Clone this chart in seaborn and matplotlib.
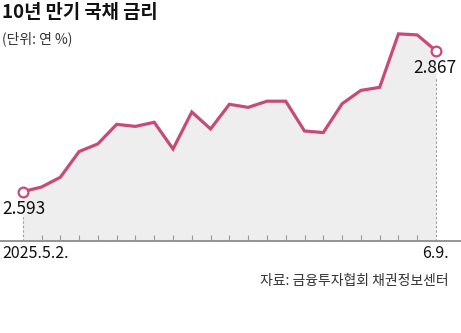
import numpy as np
import pandas as pd
import seaborn as sns
import matplotlib.pyplot as plt

# 10-year treasury yield, daily (trading days)
dates = ['2025.5.2.', '5.7.', '5.8.', '5.9.', '5.12.', '5.13.', '5.14.', '5.15.', '5.16.',
         '5.19.', '5.20.', '5.21.', '5.22.', '5.23.', '5.26.', '5.27.', '5.28.', '5.29.',
         '5.30.', '6.2.', '6.4.', '6.5.', '6.9.']
rates = [2.593, 2.602, 2.621, 2.671, 2.686, 2.724, 2.720, 2.728, 2.676, 2.748, 2.715,
         2.763, 2.757, 2.769, 2.769, 2.711, 2.708, 2.764, 2.790, 2.796, 2.900, 2.898, 2.867]

title = '10년 만기 국채 금리'
unit = '(단위: 연 %)'
source = '자료: 금융투자협회 채권정보센터'

line_color = '#c64b78'
fill_color = '#eeeeee'

df = pd.DataFrame({'idx': np.arange(len(rates)), 'rate': rates})

sns.set_style('white')
plt.rcParams['font.family'] = ['Noto Sans CJK KR', 'DejaVu Sans']

fig = plt.figure(figsize=(4.61, 3.33), dpi=100)
# axes spans the full width; bottom at the baseline
ax = fig.add_axes([0, 1 - 241 / 333, 1, (241 - 20) / 333])
ax.set_axisbelow(False)

ymin = 2.497
ax.fill_between(df['idx'], df['rate'], ymin, color=fill_color, lw=0, zorder=0.2)
sns.lineplot(data=df, x='idx', y='rate', ax=ax, color=line_color, lw=2.3,
             solid_joinstyle='miter', zorder=3)

# end markers (open circles)
ends = df.iloc[[0, -1]]
ax.plot(ends['idx'], ends['rate'], 'o', ms=7, mfc='white', mec=line_color, mew=1.6, zorder=4)

# dashed drops under the end labels
ax.vlines(ends['idx'], ymin, ends['rate'] - 0.05, colors='#999999', lw=0.8,
          linestyles=(0, (2, 2)), zorder=2)

ax.annotate(f'{rates[0]:.3f}', (0, rates[0]), xytext=(-15, -6), textcoords='offset points',
            ha='left', va='top', fontsize=12.5, color='#111111')
ax.annotate(f'{rates[-1]:.3f}', (len(rates) - 1, rates[-1]), xytext=(15, -6),
            textcoords='offset points', ha='right', va='top', fontsize=12.5, color='#111111')

ax.set_xlim(-1.21, 23.33)
ax.set_ylim(ymin, 2.927)
ax.set_xticks(np.arange(1, len(rates) - 1))
ax.set_xticklabels([])
ax.set_yticks([])
ax.tick_params(axis='x', direction='in', length=4.5, width=0.8, color='#999999', bottom=True)
for s in ['top', 'left', 'right']:
    ax.spines[s].set_visible(False)
ax.spines['bottom'].set_color('#8c8c8c')
ax.spines['bottom'].set_linewidth(1.3)
ax.set_xlabel('')
ax.set_ylabel('')

# date labels at the ends
ax.annotate(dates[0], (0, ymin), xytext=(-15, -3), textcoords='offset points',
            ha='left', va='top', fontsize=11.5, color='#111111')
ax.annotate(dates[-1], (len(dates) - 1, ymin), xytext=(9, -3), textcoords='offset points',
            ha='right', va='top', fontsize=11.5, color='#111111')

fig.text(2 / 461, 1 - 12.5 / 333, title, ha='left', va='center', fontsize=13.5,
         fontweight='heavy', color='#111111')
fig.text(2 / 461, 1 - 38.5 / 333, unit, ha='left', va='center', fontsize=10, color='#333333')
fig.text(449 / 461, 1 - 281.5 / 333, source, ha='right', va='center', fontsize=10,
         color='#333333')

fig.savefig('out.png', dpi=100)
